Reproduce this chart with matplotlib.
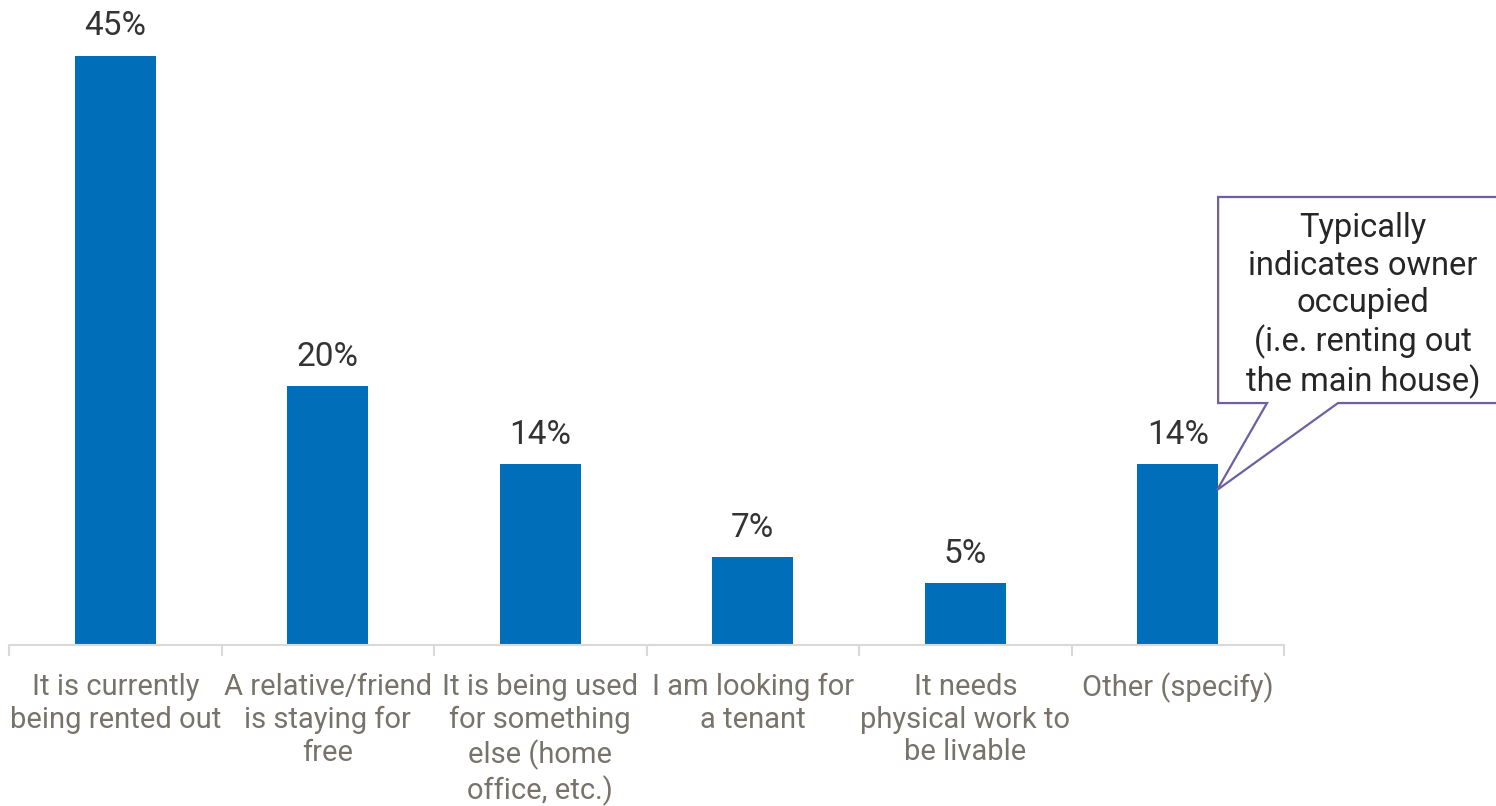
import matplotlib.pyplot as plt
from matplotlib.patches import Polygon

plt.rcParams['font.family'] = ['Roboto', 'DejaVu Sans']

# Survey answers (share of respondents, %)
categories = [
    'It is currently\nbeing rented out',
    'A relative/friend\nis staying for\nfree',
    'It is being used\nfor something\nelse (home\noffice, etc.)',
    'I am looking for\na tenant',
    'It needs\nphysical work to\nbe livable',
    'Other (specify)',
]
values = [45.0, 19.8, 13.8, 6.7, 4.7, 13.8]
labels = ['45%', '20%', '14%', '7%', '5%', '14%']

callout_text = 'Typically\nindicates owner\noccupied\n(i.e. renting out\nthe main house)'

fig = plt.figure(figsize=(14.96, 8.06), dpi=100)
ax = fig.add_axes([9 / 1496, 161 / 806, 1275 / 1496, 645 / 806])

x = list(range(len(categories)))
ax.bar(x, values, width=0.38, color='#006EB8', zorder=2)

for xi, v, lab in zip(x, values, labels):
    ax.text(xi, v + 1.0, lab, ha='center', va='bottom', fontsize=24, color='#333333')

ax.set_xlim(-0.5, len(categories) - 0.5)
ax.set_ylim(0, 645 / 13.1)

for side in ['top', 'right', 'left']:
    ax.spines[side].set_visible(False)
ax.spines['bottom'].set_color('#D9D9D9')
ax.spines['bottom'].set_linewidth(1.5)
ax.set_yticks([])

ax.set_xticks(x)
ax.set_xticklabels(categories, fontsize=21, color='#77736A', linespacing=1.22, va='top')
ax.tick_params(axis='x', which='major', length=0, pad=20)
ax.set_xticks([i - 0.5 for i in range(len(categories) + 1)], minor=True)
ax.tick_params(axis='x', which='minor', length=8, width=1.5, color='#D9D9D9')

# callout box pointing at the "Other" bar
box = Polygon([(5.19, 34.2), (7.5, 34.2), (7.5, 18.47), (5.754, 18.47),
               (5.185, 11.83), (5.42, 18.47), (5.19, 18.47)],
              closed=True, facecolor='white', edgecolor='#6E5FA5',
              linewidth=1.6, clip_on=False, zorder=3)
ax.add_patch(box)
ax.text(5.872, 25.9, callout_text, ha='center', va='center', fontsize=23.5,
        color='#262626', linespacing=1.21, zorder=4)

fig.savefig('out.png', dpi=100)
